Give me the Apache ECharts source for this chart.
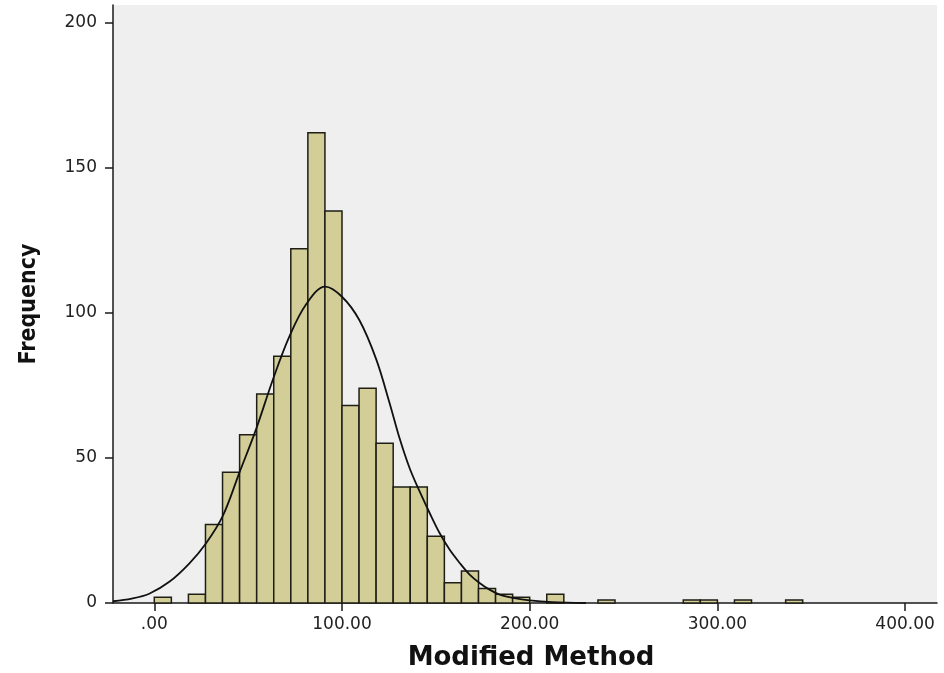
<!DOCTYPE html>
<html>
<head>
<meta charset="utf-8">
<script src="https://cdn.jsdelivr.net/npm/echarts@6/dist/echarts.min.js"></script>
<style>
html,body{margin:0;padding:0;background:#fff;}
#chart{width:944px;height:673px;}
</style>
</head>
<body>
<div id="chart"></div>
<script>
// Histogram bins (lower edges) and counts
const binWidth = 9.0909;
const binLower = [0, 18.18, 27.27, 36.36, 45.45, 54.55, 63.64, 72.73, 81.82, 90.91, 100, 109.09, 118.18, 127.27, 136.36, 145.45, 154.55, 163.64, 172.73, 181.82, 190.91, 209.09, 236.36, 281.82, 290.91, 309.09, 336.36];
const counts   = [2, 3, 27, 45, 58, 72, 85, 122, 162, 135, 68, 74, 55, 40, 40, 23, 7, 11, 5, 3, 2, 3, 1, 1, 1, 1, 1];

// Normal curve points
const curveX = [-22, -12, -2.7, 8, 18.6, 27.5, 36.5, 45.4, 54.3, 63.2, 72.1, 81, 91, 100, 109.3, 118.2, 125.3, 130.6, 136, 141.3, 146.7, 152, 157.3, 162.7, 168, 173.3, 178.6, 184, 191.1, 200, 212, 230];
const curveY = [0.6, 1.5, 3.2, 7.3, 13.6, 20.5, 30, 45, 60, 77, 92, 103, 109, 105.5, 97.4, 84, 69, 56.9, 46.5, 38.5, 31, 24.1, 18.4, 13.8, 9.8, 6.9, 4.6, 2.9, 1.8, 0.9, 0.3, 0];

const xTicks = [0, 100, 200, 300, 400];
const yTicks = [0, 50, 100, 150, 200];
const xTitle = 'Modified Method';
const yTitle = 'Frequency';

const barData = binLower.map((b, i) => [b, b + binWidth, counts[i]]);
const lineData = curveX.map((x, i) => [x, curveY[i]]);

const chart = echarts.init(document.getElementById('chart'), null, {renderer: 'canvas'});
const labelFont = 'DejaVu Sans, sans-serif';
const axisColor = '#1a1a1a';
chart.setOption({
  animation: false,
  backgroundColor: '#ffffff',
  grid: {left: 113, right: 7, top: 5, bottom: 70, containLabel: false, outerBoundsMode: 'none',
    show: true, backgroundColor: '#efefef', borderWidth: 0},
  xAxis: {
    type: 'value', min: -22, max: 417,
    name: xTitle, nameLocation: 'middle', nameGap: 42,
    nameTextStyle: {fontFamily: labelFont, fontWeight: 'bold', fontSize: 26, color: '#111', padding: [0, 0, 0, 12]},
    axisLine: {show: true, onZero: false, lineStyle: {color: axisColor, width: 1.5}},
    axisTick: {show: true, length: 8, customValues: xTicks, lineStyle: {color: axisColor, width: 1.5}},
    axisLabel: {customValues: xTicks, margin: 13, fontFamily: labelFont, fontSize: 17, color: '#222',
      formatter: v => v === 0 ? '.00' : v.toFixed(2)},
    splitLine: {show: false}
  },
  yAxis: {
    type: 'value', min: 0, max: 206,
    name: yTitle, nameLocation: 'middle', nameGap: 72, nameRotate: 90,
    nameTextStyle: {fontFamily: 'Liberation Sans Narrow, DejaVu Sans Condensed, sans-serif', fontWeight: 'bold', fontSize: 23, color: '#111'},
    axisLine: {show: true, onZero: false, lineStyle: {color: axisColor, width: 1.5}},
    axisTick: {show: true, length: 8, customValues: yTicks, lineStyle: {color: axisColor, width: 1.5}},
    axisLabel: {customValues: yTicks, margin: 16, fontFamily: labelFont, fontSize: 17, color: '#222'},
    splitLine: {show: false}
  },
  series: [
    {
      type: 'custom',
      data: barData,
      encode: {x: [0, 1], y: 2},
      renderItem: function (params, api) {
        const p0 = api.coord([api.value(0), api.value(2)]);
        const p1 = api.coord([api.value(1), 0]);
        return {
          type: 'rect',
          shape: {x: p0[0], y: p0[1], width: p1[0] - p0[0], height: p1[1] - p0[1]},
          style: {fill: '#d3ce98', stroke: '#1e1e16', lineWidth: 1.5}
        };
      },
      z: 2
    },
    {
      type: 'line',
      data: lineData,
      smooth: 0.35,
      showSymbol: false,
      symbol: 'none',
      lineStyle: {color: '#111', width: 1.8},
      z: 3
    }
  ]
});
</script>
</body>
</html>
